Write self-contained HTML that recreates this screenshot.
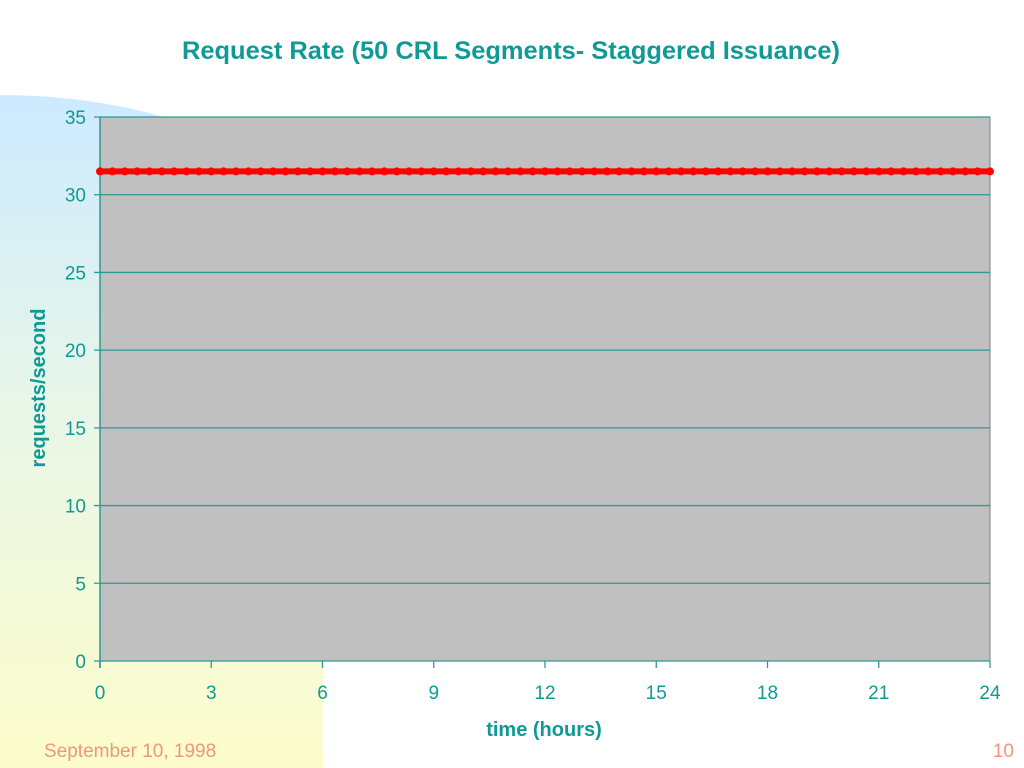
<!DOCTYPE html>
<html><head><meta charset="utf-8"><style>
body{margin:0;width:1024px;height:768px;overflow:hidden;background:#fff;font-family:"Liberation Sans",sans-serif;position:relative}
#panel{position:absolute;left:0;top:95px;width:323px;height:673px;border-top-right-radius:323px 160px;background:linear-gradient(#cdeaff,#eaf7e6 50%,#fdfdcc)}
svg{position:absolute;left:0;top:0}
</style></head><body>
<div id="panel"></div>
<svg id="c" width="1024" height="768">
<text x="511" y="59" text-anchor="middle" font-size="25" font-weight="bold" fill="#0f9a96" font-family="Liberation Sans" textLength="658" lengthAdjust="spacingAndGlyphs">Request Rate (50 CRL Segments- Staggered Issuance)</text>
<text x="544" y="736" text-anchor="middle" font-size="20" font-weight="bold" fill="#0f9a96">time (hours)</text>
<text transform="translate(45,388) rotate(-90)" text-anchor="middle" font-size="20" font-weight="bold" fill="#0f9a96">requests/second</text>
<text x="44" y="757" font-size="19" fill="#f0967a">September 10, 1998</text>
<text x="1014" y="757" text-anchor="end" font-size="19" fill="#f0967a">10</text>
</svg>
<script>
const yTicks=[0,5,10,15,20,25,30,35];
const xTicks=[0,3,6,9,12,15,18,21,24];
const xMax=24,yMax=35;
const rate=[31.5,31.5,31.5,31.5,31.5,31.5,31.5,31.5,31.5,31.5,31.5,31.5,31.5,31.5,31.5,31.5,31.5,31.5,31.5,31.5,31.5,31.5,31.5,31.5,31.5,31.5,31.5,31.5,31.5,31.5,31.5,31.5,31.5,31.5,31.5,31.5,31.5,31.5,31.5,31.5,31.5,31.5,31.5,31.5,31.5,31.5,31.5,31.5,31.5,31.5,31.5,31.5,31.5,31.5,31.5,31.5,31.5,31.5,31.5,31.5,31.5,31.5,31.5,31.5,31.5,31.5,31.5,31.5,31.5,31.5,31.5,31.5,31.5];
const L=100,R=990,T=117,B=661;
const sx=v=>L+v/xMax*(R-L), sy=v=>B-v/yMax*(B-T);
const svg=document.getElementById('c');
const NS='http://www.w3.org/2000/svg';
function mk(t,a){const e=document.createElementNS(NS,t);for(const k in a)e.setAttribute(k,a[k]);svg.appendChild(e);return e;}
const bg=mk('rect',{x:L,y:T,width:R-L,height:B-T,fill:'#c0c0c0',stroke:'#7f7f7f','stroke-width':1});


yTicks.forEach(v=>{
 const g=mk('line',{x1:L-6,x2:R,y1:sy(v),y2:sy(v),stroke:'#2a9a96','stroke-width':1.3});
 
 
 const t=mk('text',{x:L-14,y:sy(v)+7,'text-anchor':'end','font-size':19,fill:'#0f9a96'});t.textContent=v;
 
 
});
xTicks.forEach(v=>{
 const g=mk('line',{x1:sx(v),x2:sx(v),y1:B,y2:B+7,stroke:'#2a9a96','stroke-width':1.3});
 
 
 const t=mk('text',{x:sx(v),y:B+38,'text-anchor':'middle','font-size':19,fill:'#0f9a96'});t.textContent=v;
 
 
});
const ax=mk('line',{x1:L,x2:L,y1:T,y2:B+7,stroke:'#2a9a96','stroke-width':1.5});


const pts=rate.map((v,i)=>sx(i*xMax/(rate.length-1))+','+sy(v)).join(' ');
const line=mk('polyline',{points:pts,fill:'none',stroke:'#ff0000','stroke-width':6});


rate.forEach((v,i)=>{
 const c=mk('circle',{cx:sx(i*xMax/(rate.length-1)),cy:sy(v),r:4,fill:'#ff0000'});
 
 
});
</script>
</body></html>
